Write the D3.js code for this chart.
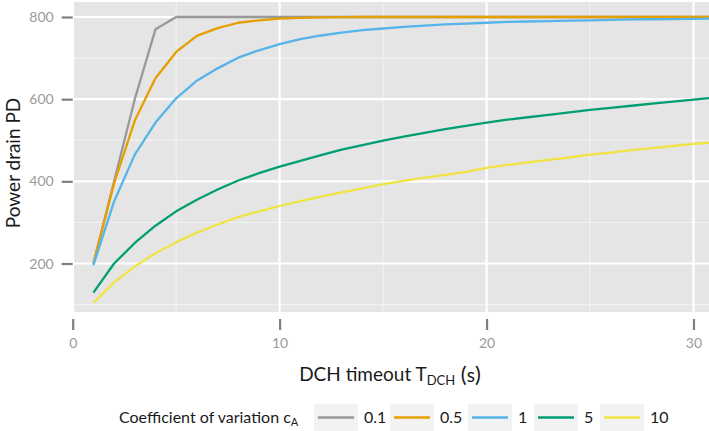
<!DOCTYPE html>
<html>
<head>
<meta charset="utf-8">
<script src="https://cdn.jsdelivr.net/npm/d3@7"></script>
<style>
  html, body { margin: 0; padding: 0; background: #ffffff; }
  svg { display: block; }
  text { font-family: "Lato", "Open Sans", sans-serif; }
</style>
</head>
<body>
<svg id="chart" width="709" height="431"></svg>
<script>
// DCH timeout values (seconds)
const timeouts = [1, 2, 3, 4, 5, 6, 7, 8, 9, 10, 11, 12, 13, 14, 15, 16,
                  17, 18, 19, 20, 21, 22, 23, 24, 25, 26, 27, 28, 29, 30, 31];

// Power drain for each coefficient of variation
const pd01 = [200, 400, 600, 770, 800, 800, 800, 800, 800, 800, 800, 800, 800, 800, 800, 800,
              800, 800, 800, 800, 800, 800, 800, 800, 800, 800, 800, 800, 800, 800, 800];
const pd05 = [200, 395, 548, 651, 715, 754, 773, 786, 792, 796, 798, 799, 799.5, 800, 800, 800,
              800, 800, 800, 800, 800, 800, 800, 800, 800, 800, 800, 800, 800, 800, 800];
const pd1  = [196, 351, 465, 543, 602, 645, 675, 701, 719, 734, 746, 755, 762, 768, 772, 776,
              779, 782, 784, 786, 788, 789, 790, 791, 792, 793, 794, 794.5, 795, 795.5, 796];
const pd5  = [129, 200, 250, 292, 327, 355, 380, 402, 420, 436, 450, 464, 477, 488, 499, 509,
              518, 527, 535, 543, 550, 556, 562, 568, 574, 579, 584, 589, 594, 599, 604];
const pd10 = [104, 154, 193, 225, 252, 275, 295, 313, 327, 340, 352, 363, 373, 383, 393, 401,
              409, 416, 423, 433, 440, 446, 452, 458, 465, 470, 476, 481, 486, 491, 495];

const cvLabels = ["0.1", "0.5", "1", "5", "10"];
const cvColors = ["#999999", "#E69F00", "#56B4E9", "#009E73", "#F0E442"];
const seriesValues = [pd01, pd05, pd1, pd5, pd10];

const xTicks = [0, 10, 20, 30];
const xMinor = [5, 15, 25];
const yTicks = [200, 400, 600, 800];
const yMinor = [100, 300, 500, 700];

const svg = d3.select("#chart");

// panel box
const panel = { left: 74, right: 709, top: 2, bottom: 312 };

const x = d3.scaleLinear().domain([0, 30.75]).range([72.7, 709]);
const y = d3.scaleLinear().domain([82, 836.5]).range([panel.bottom, panel.top]);

svg.append("defs").append("clipPath").attr("id", "panel-clip")
  .append("rect")
  .attr("x", panel.left).attr("y", panel.top)
  .attr("width", panel.right - panel.left).attr("height", panel.bottom - panel.top);

svg.append("rect")
  .attr("x", panel.left).attr("y", panel.top)
  .attr("width", panel.right - panel.left).attr("height", panel.bottom - panel.top)
  .attr("fill", "#E5E5E5");

const grid = svg.append("g").attr("clip-path", "url(#panel-clip)");

// minor grid
grid.selectAll(".xminor").data(xMinor).join("line")
  .attr("x1", d => x(d)).attr("x2", d => x(d))
  .attr("y1", panel.top).attr("y2", panel.bottom)
  .attr("stroke", "#F2F2F2").attr("stroke-width", 1.1);
grid.selectAll(".yminor").data(yMinor).join("line")
  .attr("x1", panel.left).attr("x2", panel.right)
  .attr("y1", d => y(d)).attr("y2", d => y(d))
  .attr("stroke", "#F2F2F2").attr("stroke-width", 1.1);

// major grid
grid.selectAll(".xmajor").data(xTicks).join("line")
  .attr("x1", d => x(d)).attr("x2", d => x(d))
  .attr("y1", panel.top).attr("y2", panel.bottom)
  .attr("stroke", "#FFFFFF").attr("stroke-width", 2.2);
grid.selectAll(".ymajor").data(yTicks).join("line")
  .attr("x1", panel.left).attr("x2", panel.right)
  .attr("y1", d => y(d)).attr("y2", d => y(d))
  .attr("stroke", "#FFFFFF").attr("stroke-width", 2.2);

// series lines
const line = d3.line()
  .x((d, i) => x(timeouts[i]))
  .y(d => y(d));

const lines = svg.append("g").attr("clip-path", "url(#panel-clip)");
seriesValues.forEach((vals, k) => {
  lines.append("path")
    .datum(vals)
    .attr("d", line)
    .attr("fill", "none")
    .attr("stroke", cvColors[k])
    .attr("stroke-width", 2.3)
    .attr("stroke-linejoin", "round");
});

// x axis
const xAxis = svg.append("g")
  .attr("transform", `translate(0,${panel.bottom + 7})`)
  .call(d3.axisBottom(x).tickValues(xTicks).tickSize(11).tickPadding(8));
xAxis.select(".domain").remove();
xAxis.selectAll(".tick line").attr("stroke", "#7F7F7F").attr("stroke-width", 2.2);
xAxis.selectAll(".tick text").attr("fill", "#9A9A9A").attr("font-size", 14)
  .style("font-family", "Lato, sans-serif");

// y axis
const yAxis = svg.append("g")
  .attr("transform", `translate(${panel.left - 1.3},0)`)
  .call(d3.axisLeft(y).tickValues(yTicks).tickSize(11).tickPadding(8));
yAxis.select(".domain").remove();
yAxis.selectAll(".tick line").attr("stroke", "#7F7F7F").attr("stroke-width", 2.2);
yAxis.selectAll(".tick text").attr("fill", "#9A9A9A").attr("font-size", 14)
  .style("font-family", "Lato, sans-serif");

// y title
svg.append("text")
  .attr("transform", `translate(20,163) rotate(-90)`)
  .attr("text-anchor", "middle")
  .attr("font-size", 19)
  .attr("fill", "#1A1A1A")
  .text("Power drain PD");

// x title with subscript
const xt = svg.append("text")
  .attr("x", 390).attr("y", 381)
  .attr("text-anchor", "middle")
  .attr("font-size", 19)
  .attr("fill", "#1A1A1A");
xt.append("tspan").text("DCH timeout T");
xt.append("tspan").attr("font-size", 13).attr("dy", 4).text("DCH");
xt.append("tspan").attr("font-size", 22).attr("dy", -3).text(" (");
xt.append("tspan").attr("font-size", 19).text("s");
xt.append("tspan").attr("font-size", 22).text(")");

// legend
const legend = svg.append("g");
const lt = legend.append("text")
  .attr("x", 119).attr("y", 423)
  .attr("font-size", 16)
  .attr("fill", "#1A1A1A");
lt.append("tspan").text("Coefficient of variation c");
lt.append("tspan").attr("font-size", 11).attr("dy", 3).text("A");

const keyX = [314, 390, 468, 534, 600];
cvLabels.forEach((lab, k) => {
  const g = legend.append("g").attr("transform", `translate(${keyX[k]},404)`);
  g.append("rect").attr("width", 44).attr("height", 27).attr("fill", "#F2F2F2");
  g.append("line").attr("x1", 4).attr("x2", 40).attr("y1", 13.5).attr("y2", 13.5)
    .attr("stroke", cvColors[k]).attr("stroke-width", 2.3);
  g.append("text").attr("x", 50).attr("y", 19).attr("font-size", 16)
    .attr("fill", "#1A1A1A").text(lab);
});
</script>
</body>
</html>
